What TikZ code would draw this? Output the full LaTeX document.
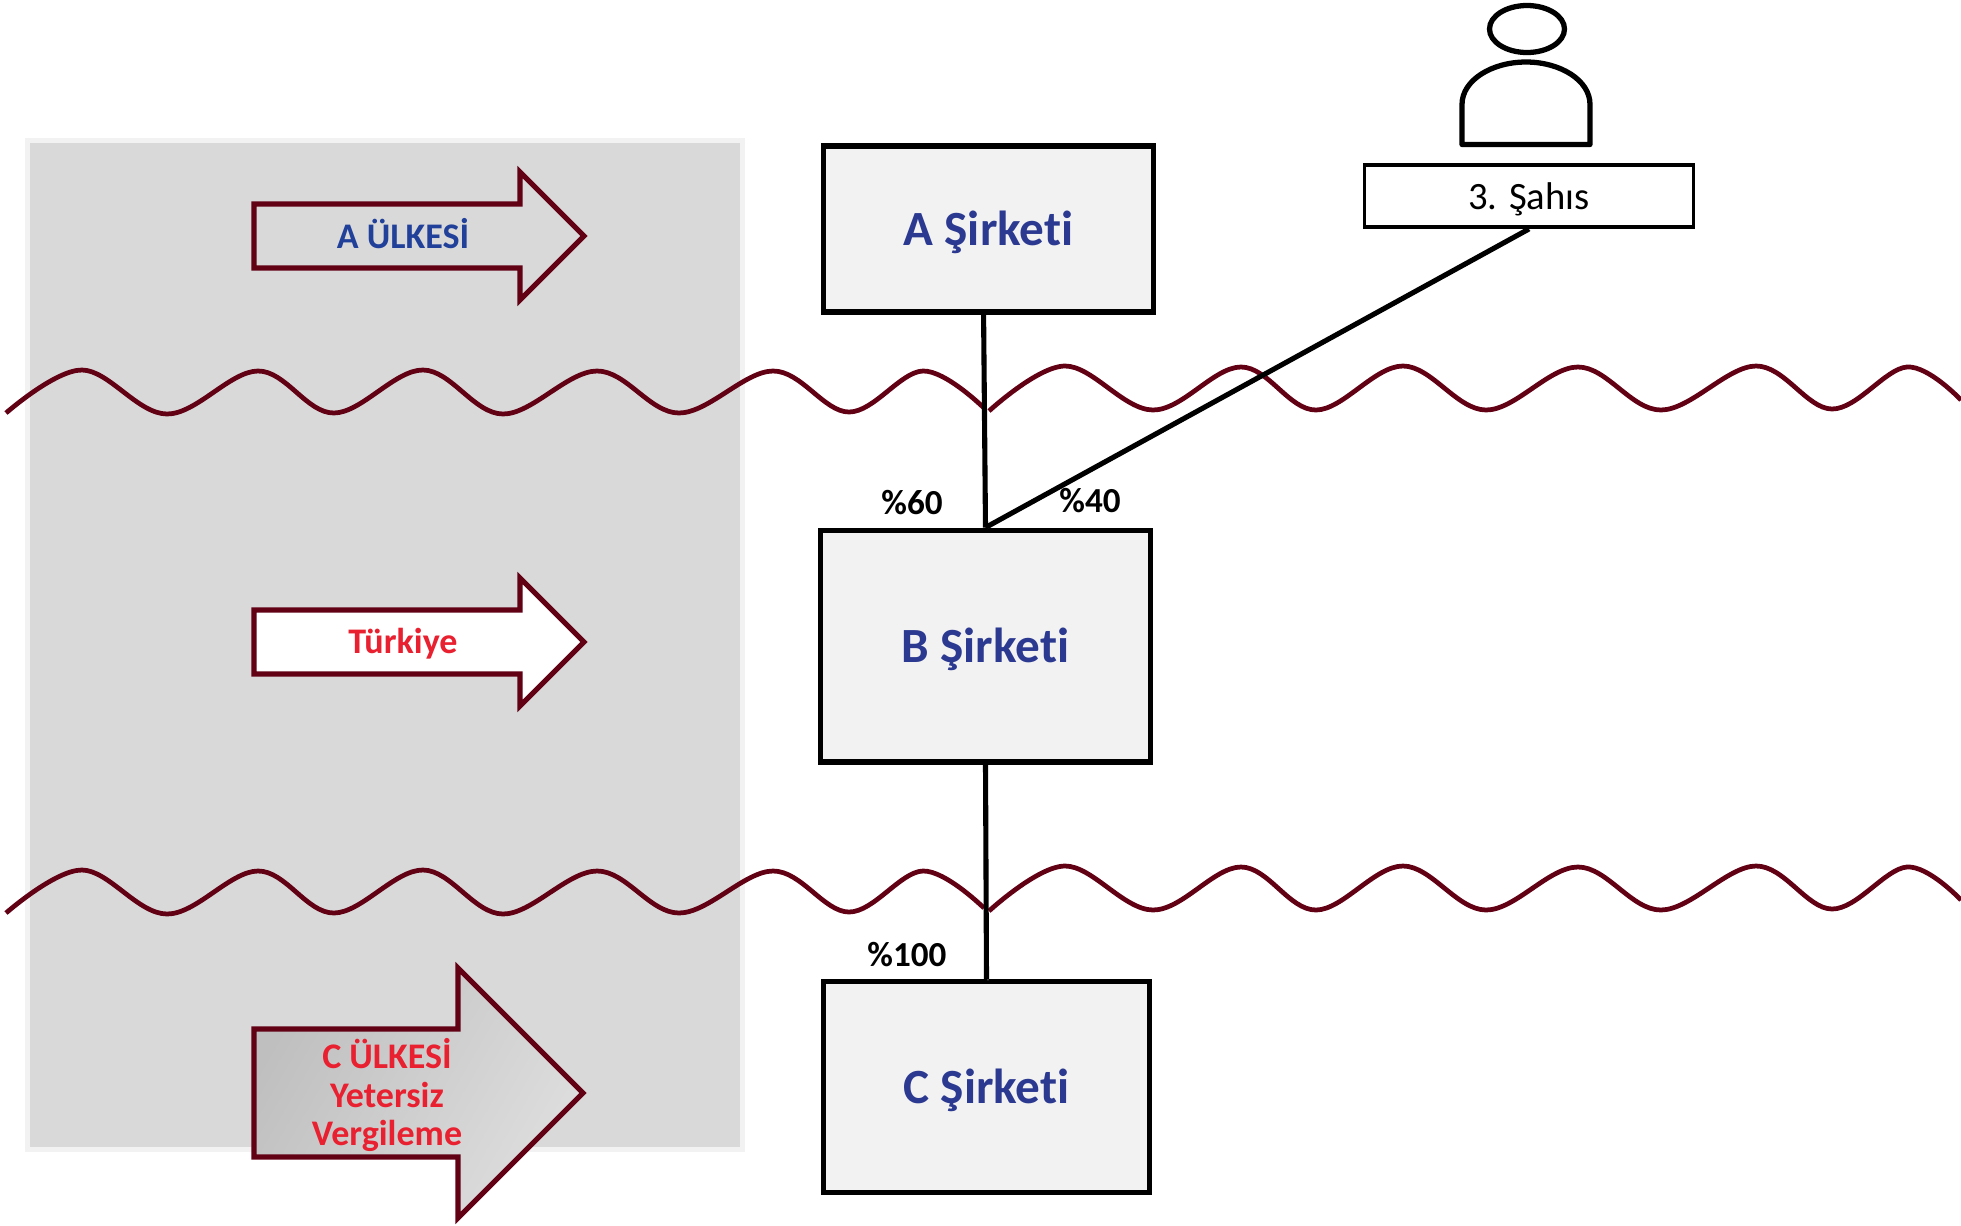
\documentclass[tikz,border=0pt]{standalone}
\usepackage{fontspec}
\setmainfont[Ligatures=NoCommon]{Carlito}
\definecolor{wavered}{HTML}{620014}
\definecolor{panelgray}{HTML}{D9D9D9}
\definecolor{panelrim}{HTML}{F2F2F2}
\definecolor{boxblue}{HTML}{2B3990}
\definecolor{landblue}{HTML}{21409A}
\definecolor{landred}{HTML}{E8202F}
\tikzset{
    firma/.style={draw=black,fill=panelrim,line width=2.9pt,text height=20pt,text depth=1pt,font=\fontsize{28}{32}\selectfont\bfseries,text=boxblue},
    link/.style={draw=black,line width=2.9pt,preaction={draw=black!25,transform canvas={xshift=0.8pt,yshift=-0.8pt}}},
    wave/.style={draw=wavered,line width=2.7pt},
    landarrow/.style={draw=wavered,line width=2.9pt,miter limit=6},
    landtext/.style={font=\fontsize{20.5}{22}\selectfont\bfseries},
    share/.style={font=\fontsize{20}{24}\selectfont\bfseries,text=black},
}
\newcommand{\wave}[1]{
    \draw[wave,shift={(0,#1)}]
    plot[smooth,tension=0.6] coordinates {(6,413) (82,370) (167,414) (258,371) (334,413) (423,370) (503,414) (597,371) (679,413) (773,371) (849,412) (923,371) (984,408)}
    plot[smooth,tension=0.6] coordinates {(989,411) (1065,366) (1153,410) (1241,367) (1316,410) (1403,366) (1486,410) (1578,367) (1661,410) (1756,366) (1832,409) (1907,367) (1961,400)};
}
\begin{document}
\begin{tikzpicture}[x=0.02cm,y=-0.02cm]
    \useasboundingbox (0,0) rectangle (1961,1225);

    % grey panel
    \draw[draw=panelrim,fill=panelgray,line width=2.8pt] (27.5,140.5) rectangle (742.5,1149.5);

    % arrows on the panel
    \draw[landarrow] (254,204) -- ++(266,0) -- ++(0,-32) -- ++(64,64) -- ++(-64,64) -- ++(0,-32) -- ++(-266,0) -- cycle;
    \draw[landarrow,fill=white] (254,610) -- ++(266,0) -- ++(0,-32) -- ++(64,64) -- ++(-64,64) -- ++(0,-32) -- ++(-266,0) -- cycle;
    \draw[landarrow,left color=black!25,middle color=black!15,right color=black!13,shading angle=60] (254,1029) -- ++(204,0) -- ++(0,-61) -- ++(125,125) -- ++(-125,125) -- ++(0,-61) -- ++(-204,0) -- cycle;

    \node[landtext,text=landblue] (landA) at (403,234) {A ÜLKESİ};
    \node[landtext,text=landred] (landB) at (403,644) {Türkiye};
    \node[landtext,text=landred,align=center] (landC) at (387,1095) {C ÜLKESİ\\Yetersiz\\Vergileme};

    % companies
    \node[firma,minimum width=187.5pt,minimum height=94.5pt] (firmaA) at (988.5,229) {A Şirketi};
    \node[firma,minimum width=188pt,minimum height=132pt] (firmaB) at (985.5,646) {B Şirketi};
    \node[firma,minimum width=186pt,minimum height=120pt] (firmaC) at (986.5,1087) {C Şirketi};
    \node[draw=black,fill=white,line width=2pt,minimum width=187.5pt,minimum height=35.5pt,text height=15.4pt,text depth=0.6pt,font=\fontsize{22}{26}\selectfont] (sahis) at (1529,196) {3. Şahıs};

    % person
    \draw[line width=3pt] (1527,29) ellipse (37.5 and 23.5);
    \draw[line width=3pt,line join=round] (1462,144.5) -- ++(0,-40) .. controls (1462,80) and (1492,62) .. (1526,62) .. controls (1560,62) and (1590,80) .. (1590,104.5) -- (1590,144.5) -- cycle;

    % borders
    \wave{0}
    \wave{500}

    % ownership lines
    \draw[link] ([xshift=-2.8pt]firmaA.south) -- (firmaB.north);
    \draw[link] (sahis.south) -- (firmaB.north);
    \draw[link] (firmaB.south) -- (firmaC.north);

    \node[share] (shareA) at (912,503) {\%60};
    \node[share] (shareS) at (1090,501) {\%40};
    \node[share] (shareB) at (907,955) {\%100};
\end{tikzpicture}
\end{document}
